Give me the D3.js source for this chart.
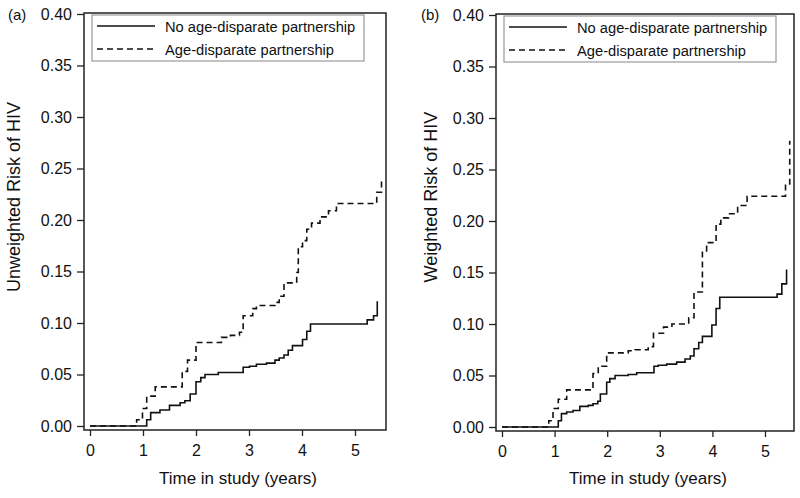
<!DOCTYPE html>
<html><head><meta charset="utf-8">
<script src="https://cdn.jsdelivr.net/npm/d3@7"></script>
<style>
body{margin:0;background:#fff}
text{font-family:"Liberation Sans",Arial,sans-serif;fill:#111}
</style>
</head><body>
<svg id="c" width="800" height="498"></svg>
<script>
// ---- data ----
const xTicks = [0, 1, 2, 3, 4, 5];
const yTicks = [0, 0.05, 0.10, 0.15, 0.20, 0.25, 0.30, 0.35, 0.40];
const seriesNames = ["No age-disparate partnership", "Age-disparate partnership"];
const panelLabels = ["(a)", "(b)"];
const yTitles = ["Unweighted Risk of HIV", "Weighted Risk of HIV"];
const xTitle = "Time in study (years)";

// Panel (a): unweighted
const aNoTime = [0, 1.07, 1.145, 1.32, 1.50, 1.70, 1.79, 1.89, 2.0, 2.09, 2.17, 2.42, 2.89, 3.01, 3.14, 3.33, 3.49, 3.57, 3.66, 3.74, 3.82, 4.01, 4.09, 4.16, 5.23, 5.35, 5.42];
const aNoRisk = [0, 0.006, 0.013, 0.0155, 0.020, 0.0226, 0.0245, 0.031, 0.043, 0.047, 0.050, 0.052, 0.057, 0.058, 0.060, 0.061, 0.064, 0.066, 0.069, 0.0735, 0.078, 0.084, 0.092, 0.099, 0.103, 0.107, 0.121];
const aAgeTime = [0, 0.88, 0.99, 1.07, 1.23, 1.74, 1.84, 2.0, 2.48, 2.65, 2.82, 2.89, 3.07, 3.14, 3.49, 3.57, 3.66, 3.90, 3.93, 4.01, 4.09, 4.18, 4.34, 4.50, 4.65, 5.41, 5.50];
const aAgeRisk = [0, 0.006, 0.017, 0.029, 0.038, 0.053, 0.064, 0.081, 0.086, 0.088, 0.091, 0.107, 0.114, 0.117, 0.120, 0.126, 0.139, 0.149, 0.174, 0.180, 0.191, 0.197, 0.203, 0.209, 0.216, 0.227, 0.240];

// Panel (b): weighted
const bNoTime = [0, 1.07, 1.13, 1.23, 1.35, 1.48, 1.64, 1.73, 1.82, 1.87, 1.99, 2.05, 2.15, 2.40, 2.56, 2.89, 2.97, 3.13, 3.32, 3.48, 3.58, 3.65, 3.74, 3.81, 3.99, 4.07, 4.14, 5.23, 5.32, 5.41];
const bNoRisk = [0, 0.006, 0.013, 0.0145, 0.016, 0.020, 0.021, 0.0226, 0.025, 0.032, 0.0435, 0.047, 0.050, 0.051, 0.0526, 0.059, 0.060, 0.061, 0.063, 0.066, 0.069, 0.076, 0.082, 0.088, 0.099, 0.115, 0.126, 0.129, 0.139, 0.153];
const bAgeTime = [0, 0.89, 0.97, 1.07, 1.23, 1.73, 1.83, 1.99, 2.40, 2.53, 2.78, 2.88, 3.07, 3.23, 3.55, 3.65, 3.81, 3.89, 4.07, 4.16, 4.31, 4.48, 4.66, 5.39, 5.47];
const bAgeRisk = [0, 0.006, 0.018, 0.027, 0.036, 0.052, 0.059, 0.072, 0.074, 0.075, 0.078, 0.091, 0.097, 0.100, 0.106, 0.131, 0.171, 0.179, 0.197, 0.203, 0.207, 0.215, 0.224, 0.236, 0.278];

// ---- layout ----
const panels = [
  {label: panelLabels[0], yTitle: yTitles[0], fx0: 84, fx1: 386, fy0: 13, fy1: 430, xr: [90, 355], yr: [426, 14], labX: 8, titleX: 20,
   series: [[aNoTime, aNoRisk], [aAgeTime, aAgeRisk]]},
  {label: panelLabels[1], yTitle: yTitles[1], fx0: 496, fx1: 794, fy0: 14, fy1: 431, xr: [502, 765], yr: [427, 15], labX: 421, titleX: 437,
   series: [[bNoTime, bNoRisk], [bAgeTime, bAgeRisk]]}
];
const dashes = [null, "6,4"];

const svg = d3.select("#c");
svg.append("rect").attr("width", 800).attr("height", 498).attr("fill", "#fff");

panels.forEach(p => {
  const g = svg.append("g");
  const x = d3.scaleLinear().domain([0, 5]).range(p.xr);
  const y = d3.scaleLinear().domain([0, 0.4]).range(p.yr);

  // y axis
  const ya = g.append("g").attr("transform", `translate(${p.fx0},0)`)
    .call(d3.axisLeft(y).tickValues(yTicks).tickFormat(d3.format(".2f")).tickSize(7).tickPadding(5));
  ya.select(".domain").remove();
  ya.selectAll("line").attr("stroke", "#222").attr("stroke-width", 1.3);
  ya.selectAll("text").attr("font-size", 16).attr("fill", "#111");

  // x axis
  const xa = g.append("g").attr("transform", `translate(0,${p.fy1})`)
    .call(d3.axisBottom(x).tickValues(xTicks).tickFormat(d3.format("d")).tickSize(6).tickPadding(9));
  xa.select(".domain").remove();
  xa.selectAll("line").attr("stroke", "#222").attr("stroke-width", 1.3);
  xa.selectAll("text").attr("font-size", 16).attr("fill", "#111");

  // frame
  g.append("rect").attr("x", p.fx0).attr("y", p.fy0)
    .attr("width", p.fx1 - p.fx0).attr("height", p.fy1 - p.fy0)
    .attr("fill", "none").attr("stroke", "#222").attr("stroke-width", 1.5);

  // lines
  const line = d3.line().x(d => x(d[0])).y(d => y(d[1])).curve(d3.curveStepAfter);
  p.series.forEach((s, i) => {
    const pts = s[0].map((t, k) => [t, s[1][k]]);
    g.append("path").attr("d", line(pts)).attr("fill", "none")
      .attr("stroke", "#111").attr("stroke-width", 1.6)
      .attr("stroke-dasharray", dashes[i]);
  });

  // legend
  const lx = p.fx0 + 8, ly = p.fy0 + 2;
  const lg = g.append("g").attr("transform", `translate(${lx},${ly})`);
  lg.append("rect").attr("width", 272).attr("height", 46)
    .attr("fill", "#fff").attr("stroke", "#999").attr("stroke-width", 1.2);
  seriesNames.forEach((n, i) => {
    const yy = 11 + i * 23;
    lg.append("line").attr("x1", 5).attr("x2", 63).attr("y1", yy).attr("y2", yy)
      .attr("stroke", "#111").attr("stroke-width", 1.6).attr("stroke-dasharray", dashes[i]);
    lg.append("text").attr("x", 73).attr("y", yy + 5.5).attr("font-size", 14.7).text(n);
  });

  // panel label
  g.append("text").attr("x", p.labX).attr("y", 20).attr("font-size", 15).text(p.label);

  // titles
  g.append("text").attr("transform", `translate(${p.titleX},${197}) rotate(-90)`)
    .attr("text-anchor", "middle").attr("font-size", 18).text(p.yTitle);
  g.append("text").attr("x", (x(0) + p.fx1) / 2 + 0).attr("y", 484)
    .attr("text-anchor", "middle").attr("font-size", 17).text(xTitle);
});
</script>
</body></html>
